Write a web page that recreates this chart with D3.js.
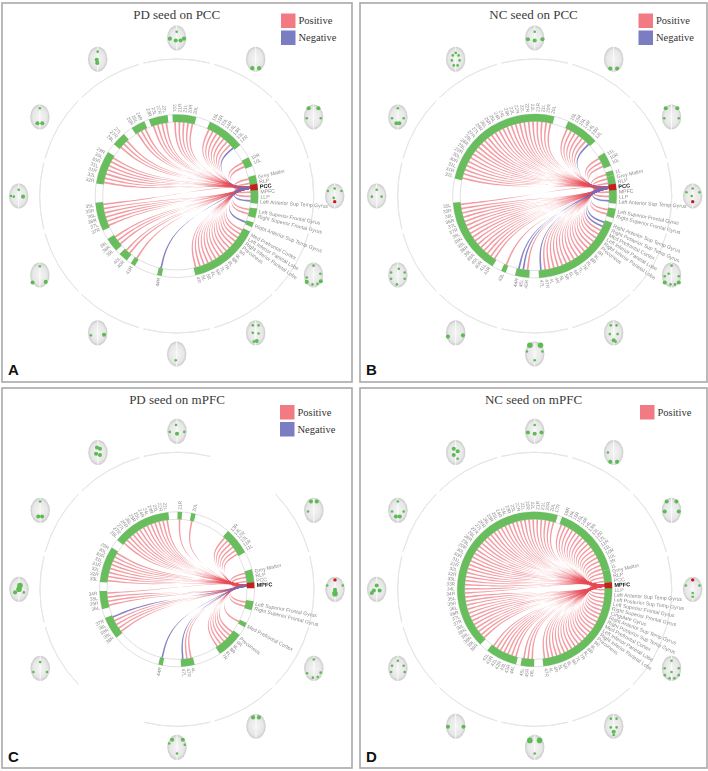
<!DOCTYPE html>
<html>
<head>
<meta charset="utf-8">
<script src="https://cdn.jsdelivr.net/npm/d3@7"></script>
<style>
  body { margin: 0; background: #fff; }
  svg { display: block; }
</style>
</head>
<body>
<div id="chart"></div>
<script>
// regions round the ring, clockwise, starting from Grey Matter
const regionLabels = [
  'Grey Matter', 'RLP', 'PCC', 'MPFC', 'LLP', 'Left Anterior Sup Temp Gyrus', 'Left Posterior Sup Temp Gyrus',
  'Left Superior Frontal Gyrus', 'Right Superior Frontal Gyrus', 'Cingulate Gyrus', 'Right Anterior Sup Temp Gyrus',
  'Right Posterior Sup Temp Gyrus', 'Med Prefrontal Cortex', 'Left Inferior Parietal Lobe', 'Right Inferior Parietal Lobe', 'Precuneus',
  '9R', '9L', '8R', '8L', '7R', '7L', '6R', '6L', '5R', '5L', '4R', '4L',
  '47R', '47L', '46R', '46L', '45R', '45L', '44R', '44L', '43R', '43L', '42R', '42L', '41R', '41L', '40R', '40L',
  '39R', '39L', '38R', '38L', '38R', '38L', '37R', '37L', '36R', '36L', '35R', '35L',
  '34R', '34L', '33R', '33L', '32R', '32L', '31R', '31L', '30R', '30L', '29R', '29L', '28R', '28L', '27R', '27L',
  '26R', '26L', '25R', '25L', '24R', '24L', '23R', '23L', '22R', '22L', '22R', '22L', '21R', '21L', '20R', '20L',
  '17R', '17L', '16R', '16L', '15R', '15L', '14R', '14L', '13R', '13L', '12R', '12L', '11R', '11L', '10R', '10L', '3R', '1L'
];

// runs of connected regions, as [first, last] index in regionLabels
const runsA = [[0, 1], [3, 5], [7, 8], [10, 10], [12, 26], [34, 34], [40, 40], [42, 43], [45, 47], [50, 55], [60, 66], [69, 71], [74, 76], [78, 81], [83, 87], [91, 98], [102, 103]];
const runsB = [[105, 105], [0, 1], [3, 5], [7, 8], [10, 29], [32, 34], [37, 37], [40, 55], [61, 87], [91, 97], [101, 103]];
const runsC = [[0, 2], [7, 8], [12, 12], [15, 20], [27, 29], [34, 34], [46, 50], [53, 56], [59, 66], [69, 81], [84, 84], [87, 87], [96, 101]];
const runsD = [[0, 2], [4, 28], [31, 33], [35, 41], [44, 88], [90, 105]];

// regions with a negative correlation
const negativeA = [5, 10, 34, 98];
const negativeB = [5, 10, 11, 29, 33, 34, 97];
const negativeC = [29, 34, 50];
const negativeD = [];

const seedA = 2;
const seedB = 2;
const seedC = 3;
const seedD = 3;

// brain views, degrees clockwise from the top of each panel
const viewsA = [0, 30, 60, 90, 120, 150, 180, 210, 240, 270, 300, 330];
const viewsB = [0, 30, 60, 90, 120, 150, 180, 210, 240, 270, 300, 330];
const viewsC = [0, 60, 90, 120, 150, 180, 240, 270, 300, 330];
const viewsD = [0, 30, 60, 90, 120, 150, 180, 210, 240, 270, 300, 330];

// active spots in each view: x, y in brain coordinates (-1..1) and a weight
const spotsA = {
  0: [[-.7, .05, 2], [.75, .05, 2], [-.1, .2, 2], [.4, .2, 2], [0, -.5, 1]],
  30: [[-.35, .72, 2], [.35, .72, 2]],
  60: [[-.5, -.7, 2], [.5, -.7, 2], [-.7, .1, 1], [.75, .1, 1]],
  90: [[-.7, -.4, 1], [.7, -.4, 1], [-.1, .15, 1], [0, -.6, 1]],
  120: [[-.7, .2, 1], [.7, -.1, 1], [-.7, .55, 2], [.75, .5, 2], [-.1, .75, 1], [.4, .7, 1], [0, -.75, 1]],
  150: [[-.3, -.6, 1], [.3, -.6, 1], [-.3, 0, 1], [.3, .05, 1], [.1, .65, 2], [-.2, .7, 1]],
  180: [[-.1, .5, 1]],
  210: [[.65, .15, 2], [-.7, .2, 1]],
  240: [[-.75, .6, 2], [.6, .55, 2], [0, -.7, 1]],
  270: [[-.5, .05, 1], [.45, .05, 2], [0, -.5, 1], [-.8, 0, 1]],
  300: [[0, -.7, 1], [-.25, .5, 2], [.25, .5, 2]],
  330: [[0, -.6, 1], [-.1, .05, 2], [-.05, .3, 2]]
};
const spotsB = {
  0: [[-.7, .1, 2], [.8, .1, 2], [0, .2, 2], [0, -.5, 1]],
  30: [[-.35, .75, 2], [.35, .75, 2]],
  60: [[-.6, -.7, 2], [.6, -.7, 2], [-.75, .1, 1], [.75, .1, 1]],
  90: [[0, -.6, 1], [-.65, -.3, 1], [.7, -.3, 1], [-.1, 0, 1]],
  120: [[-.7, .1, 1], [.75, .1, 1], [-.7, .6, 2], [.75, .6, 2], [0, -.75, 1], [-.1, .75, 1], [.35, .75, 1], [-.3, -.1, 1]],
  150: [[-.3, -.6, 1], [.3, -.6, 1], [-.4, .1, 1], [.4, .1, 1], [0, .6, 2], [.2, .7, 1]],
  180: [[-.5, -.7, 3], [.6, -.7, 3], [0, .5, 1], [-.8, -.2, 1], [.8, -.2, 1]],
  210: [[-.8, .3, 2], [.75, .2, 2]],
  240: [[-.7, .3, 1], [.7, .3, 1], [-.7, -.2, 1], [.7, -.2, 1], [-.1, .75, 1], [.1, -.5, 1]],
  270: [[0, -.5, 1], [-.5, .05, 1], [.5, .05, 1]],
  300: [[0, -.7, 1], [-.15, .5, 2], [.15, .5, 2], [-.6, .1, 1], [.6, .1, 1]],
  330: [[-.3, -.3, 1], [.3, -.3, 1], [-.4, .1, 1], [.4, .1, 1], [-.2, .5, 1], [.2, .5, 1], [0, -.5, 1]]
};
const spotsC = {
  0: [[-.1, -.5, 1], [0, .2, 2], [-.75, .05, 1], [.75, .05, 1]],
  60: [[-.3, -.7, 2], [.3, -.7, 2], [-.6, .1, 1]],
  90: [[-.8, -.3, 1], [.8, -.3, 1], [0, .35, 3], [0, .05, 2]],
  120: [[0, -.7, 1], [-.7, .4, 1], [.7, .35, 1], [-.1, .75, 1], [.4, .7, 1]],
  150: [[-.3, -.7, 2], [.3, -.7, 2]],
  180: [[-.5, -.6, 2], [.6, -.6, 2], [-.8, -.3, 1], [.8, -.2, 1], [0, .5, 1]],
  240: [[-.7, .3, 1], [.7, .3, 1], [0, -.5, 1]],
  270: [[.1, -.3, 3], [0, 0, 3], [-.4, .25, 2], [.5, .25, 1]],
  300: [[0, -.7, 1], [-.2, .5, 2], [.2, .5, 2]],
  330: [[-.1, -.4, 2], [.2, -.3, 2], [-.2, .1, 2], [.2, .2, 2]]
};
const spotsD = {
  0: [[-.7, .1, 2], [.7, .1, 2], [0, .2, 2], [0, -.5, 1]],
  30: [[-.35, .75, 2], [.35, .75, 2], [-.6, 0, 1]],
  60: [[-.5, -.7, 2], [.5, -.7, 2], [-.7, .1, 2], [.75, .1, 2]],
  90: [[-.7, -.3, 1], [.7, -.3, 1], [0, .3, 1], [0, .6, 1]],
  120: [[0, -.6, 1], [-.7, 0, 1], [.75, 0, 1], [-.7, .55, 1], [.75, .55, 1], [-.2, .8, 1], [.3, .8, 1], [0, .3, 1]],
  150: [[-.3, -.6, 1], [.3, -.6, 1], [-.3, .1, 1], [.3, .1, 1], [0, .45, 2], [0, .7, 1]],
  180: [[-.5, -.55, 3], [.5, -.55, 3], [0, .5, 1]],
  210: [[-.8, .05, 2], [.8, .05, 2]],
  240: [[-.7, .3, 1], [.7, .3, 1], [-.6, -.2, 1], [.6, -.2, 1], [0, -.6, 1]],
  270: [[-.3, .1, 2], [.3, .1, 2], [0, -.3, 2], [-.5, .3, 2]],
  300: [[0, -.7, 1], [-.2, .5, 2], [.2, .5, 2], [-.6, .1, 1], [.6, .1, 1]],
  330: [[-.2, -.3, 2], [.2, -.1, 2], [-.2, .2, 2], [.2, .5, 1]]
};

// seed location, drawn red on the 90 degree view
const seedSpotA = [0, .45];
const seedSpotB = [0, .45];
const seedSpotC = [0, -.75];
const seedSpotD = [0, -.75];

const titles = ['PD seed on PCC', 'NC seed on PCC', 'PD seed on mPFC', 'NC seed on mPFC'];
const letters = ['A', 'B', 'C', 'D'];
const legendA = ['Positive', 'Negative'];
const legendD = ['Positive'];

const colors = { Positive: '#f27a83', Negative: '#7b7dc2' };
const chordColors = { Positive: '#e84b56', Negative: '#6f6dbb' };

const panels = [
  { x: 2, y: 3, w: 350, h: 379, cx: 176.7, cy: 196, r: 81.5, lx: 281, ly: 13.5, legend: legendA, runs: runsA, neg: negativeA, seed: seedA, views: viewsA, spots: spotsA, seedSpot: seedSpotA },
  { x: 360, y: 3, w: 347, h: 379, cx: 534.7, cy: 196, r: 82, lx: 638.5, ly: 13.5, legend: legendA, runs: runsB, neg: negativeB, seed: seedB, views: viewsB, spots: spotsB, seedSpot: seedSpotB },
  { x: 2, y: 388, w: 350, h: 380, cx: 177, cy: 589.3, r: 77.5, lx: 280, ly: 405, legend: legendA, runs: runsC, neg: negativeC, seed: seedC, views: viewsC, spots: spotsC, seedSpot: seedSpotC },
  { x: 360, y: 388, w: 347, h: 380, cx: 534.7, cy: 589.3, r: 77.5, lx: 640, ly: 405, legend: legendD, runs: runsD, neg: negativeD, seed: seedD, views: viewsD, spots: spotsD, seedSpot: seedSpotD }
];

const width = 708;
const height = 771;
const ringWidth = 7.5;
const hubRadius = 137;
const brainRadius = 158;
const rad = Math.PI / 180;

const svg = d3.select('#chart').append('svg')
  .attr('width', width)
  .attr('height', height);

const defs = svg.append('defs');
const grad = defs.append('radialGradient').attr('id', 'brain_fill');
grad.append('stop').attr('offset', '0%').attr('stop-color', '#f4f4f4');
grad.append('stop').attr('offset', '75%').attr('stop-color', '#e7e7e7');
grad.append('stop').attr('offset', '100%').attr('stop-color', '#cacaca');
defs.append('filter').attr('id', 'soft').append('feGaussianBlur').attr('stdDeviation', 0.5);
defs.append('filter').attr('id', 'softer').append('feGaussianBlur').attr('stdDeviation', 0.25);

// ring index -> degrees clockwise from north
const slotAngle = d3.scaleLinear().domain([0, regionLabels.length]).range([76.8, 436.8]);

const polar = (deg, r) => [r * Math.sin(deg * rad), -r * Math.cos(deg * rad)];

const bundle = d3.line().curve(d3.curveBundle.beta(0.95));

// how deep a chord dives before it turns to the seed
const dive = d3.scaleLinear().domain([0, 30, 90]).range([0.82, 0.68, 0.45]).clamp(true);

function chord_path(target, seed, r){
  const a = slotAngle(target);
  const s = slotAngle(seed);
  const step = slotAngle(1) - slotAngle(0);
  const signed = ((a - s + 540) % 360) - 180;
  const f = dive(Math.abs(signed));
  // chords pass the hub above or below the seed line, depending on their side
  const hubPoint = (half) => {
    const base = polar(s, r * 0.74);
    const shift = polar(s + 90, 5 * signed / 180 + half);
    return [base[0] + shift[0], base[1] + shift[1]];
  };
  const side = (da, half, ds) => [
    polar(a + da, r),
    polar(a + da, r * f),
    hubPoint(half),
    polar(s + ds, r * 0.92),
    polar(s + ds, r)
  ];
  const first = bundle(side(-step * 0.2, -0.4, -step * 0.22));
  const other = bundle(side(step * 0.2, 0.4, step * 0.22).reverse());
  return first + 'L' + other.slice(1) + 'Z';
}

function draw_panel(p, idx){
  const root = svg.append('g');

  root.append('rect')
    .attr('x', p.x).attr('y', p.y)
    .attr('width', p.w).attr('height', p.h)
    .attr('fill', 'none')
    .attr('stroke', '#a9a9a9')
    .attr('stroke-width', 1.6);

  root.append('text')
    .attr('x', idx % 2 ? 533.5 : p.cx)
    .attr('y', p.y + 15.5)
    .attr('text-anchor', 'middle')
    .style('font-family', '"Liberation Serif", serif')
    .style('font-size', '13px')
    .style('fill', '#3a3a3a')
    .text(titles[idx]);

  root.append('text')
    .attr('x', p.x + 6)
    .attr('y', p.y + p.h - (idx < 2 ? 7 : 6))
    .style('font-family', '"Liberation Sans", sans-serif')
    .style('font-weight', 'bold')
    .style('font-size', '15px')
    .style('fill', '#111')
    .text(letters[idx]);

  // legend
  const legendG = root.append('g')
    .selectAll('g')
    .data(p.legend)
    .join('g')
    .attr('transform', (d, i) => `translate(${p.lx},${p.ly + i * 17})`);
  legendG.append('rect')
    .attr('width', 14.5)
    .attr('height', 14.5)
    .attr('fill', d => colors[d]);
  legendG.append('text')
    .attr('x', 17.5)
    .attr('y', 10.5)
    .style('font-family', '"Liberation Serif", serif')
    .style('font-size', '10.5px')
    .style('fill', '#333')
    .text(d => d);

  const g = root.append('g')
    .attr('transform', `translate(${p.cx},${p.cy})`);

  // outer arcs that pair with the brain views
  const outerArc = d3.arc().innerRadius(hubRadius).outerRadius(hubRadius);
  g.append('g')
    .selectAll('path')
    .data(p.views)
    .join('path')
    .attr('d', d => outerArc({ startAngle: (d - 14) * rad, endAngle: (d + 14) * rad }))
    .attr('fill', 'none')
    .attr('stroke', '#e6e6e6')
    .attr('stroke-width', 1);

  // brains
  const brains = g.append('g')
    .selectAll('g')
    .data(p.views)
    .join('g')
    .attr('transform', d => `translate(${polar(d, brainRadius)})`)
    .attr('filter', 'url(#soft)');
  const bx = d3.scaleLinear().domain([-1, 1]).range([-9.7, 9.7]);
  const by = d3.scaleLinear().domain([-1, 1]).range([-12.5, 12.5]);
  const br = d3.scaleLinear().domain([1, 3]).range([1.3, 2.8]);
  brains.append('ellipse')
    .attr('rx', 9.7)
    .attr('ry', 12.5)
    .attr('fill', 'url(#brain_fill)');
  brains.append('path')
    .attr('d', d3.line()([[0, by(-1)], [0, by(1)]]))
    .attr('stroke', '#fff')
    .attr('stroke-width', 0.8);
  brains.selectAll('circle.spot')
    .data(d => p.spots[d])
    .join('circle')
    .attr('class', 'spot')
    .attr('cx', d => bx(d[0]))
    .attr('cy', d => by(d[1]))
    .attr('r', d => br(d[2]))
    .attr('fill', '#5cbb52');
  brains.filter(d => d === 90).append('circle')
    .attr('cx', bx(p.seedSpot[0]))
    .attr('cy', by(p.seedSpot[1]))
    .attr('r', 1.7)
    .attr('fill', '#d01818');

  // thin ring guides
  g.append('g')
    .selectAll('circle')
    .data([p.r, p.r - ringWidth])
    .join('circle')
    .attr('r', d => d)
    .attr('fill', 'none')
    .attr('stroke', '#d2d2d2')
    .attr('stroke-width', 0.7);

  // expand runs to single regions
  const targets = p.runs.flatMap(run => d3.range(run[0], run[1] + 1));
  const inner = p.r - ringWidth;

  const chordG = g.append('g').attr('filter', 'url(#softer)');
  chordG.selectAll('path.pos')
    .data(targets.filter(t => !p.neg.includes(t) && t !== p.seed))
    .join('path')
    .attr('class', 'pos')
    .attr('d', d => chord_path(d, p.seed, inner))
    .attr('fill', chordColors.Positive)
    .attr('fill-opacity', 0.55);
  chordG.selectAll('path.neg')
    .data(targets.filter(t => p.neg.includes(t)))
    .join('path')
    .attr('class', 'neg')
    .attr('d', d => chord_path(d, p.seed, inner))
    .attr('fill', chordColors.Negative)
    .attr('fill-opacity', 0.85);

  // green ring segments, and the seed in red
  const ringArc = d3.arc().innerRadius(inner).outerRadius(p.r);
  const edge = (i) => slotAngle(i) * rad;
  g.append('g')
    .selectAll('path')
    .data(p.runs)
    .join('path')
    .attr('d', d => ringArc({ startAngle: edge(d[0] - 0.5), endAngle: edge(d[1] + 0.5) }))
    .attr('fill', '#68bd5c');
  g.append('path')
    .attr('d', ringArc({ startAngle: edge(p.seed - 0.65), endAngle: edge(p.seed + 0.65) }))
    .attr('fill', '#c81e1e');

  // region labels
  g.append('g')
    .attr('filter', 'url(#softer)')
    .selectAll('text')
    .data(targets.concat([p.seed]))
    .join('text')
    .attr('transform', d => {
      const a = slotAngle(d) % 360;
      const off = p.r + 2.2;
      return a <= 180
        ? `rotate(${a - 90}) translate(${off},0)`
        : `rotate(${a - 90}) translate(${off},0) rotate(180)`;
    })
    .attr('dy', '0.35em')
    .attr('text-anchor', d => (slotAngle(d) % 360 <= 180 ? 'start' : 'end'))
    .style('font-family', '"Liberation Sans", sans-serif')
    .style('font-size', d => (d === p.seed ? '5.6px' : d < 16 ? '5.2px' : '4.8px'))
    .style('font-weight', d => (d === p.seed ? 'bold' : 'normal'))
    .style('fill', d => (d === p.seed ? '#111' : '#8c8c8c'))
    .text(d => regionLabels[d]);
}

panels.forEach(draw_panel);
</script>
</body>
</html>
